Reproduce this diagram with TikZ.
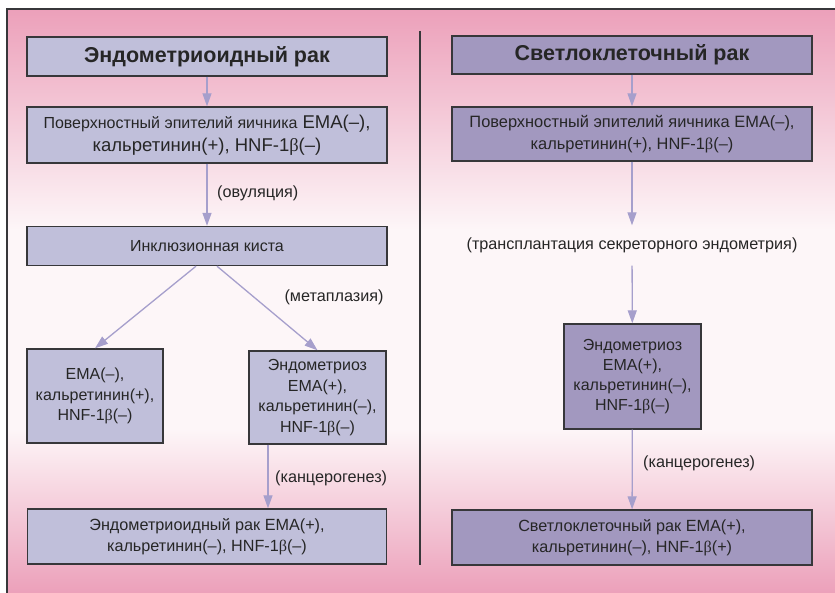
\documentclass[tikz,border=0pt]{standalone}
\usepackage{fontspec}
\setmainfont{Liberation Sans}
\newfontfamily\grkfont{Liberation Serif}
\usetikzlibrary{arrows.meta}
\definecolor{bgpink}{RGB}{236,160,186}
\definecolor{bgwhite}{RGB}{253,246,248}
\definecolor{lboxfill}{RGB}{192,191,218}
\definecolor{rboxfill}{RGB}{162,152,191}
\definecolor{flowcol}{RGB}{166,159,204}
\definecolor{framecol}{RGB}{55,55,58}
\newcommand{\hnfb}{{\grkfont β}}
\tikzset{
  lbox/.style={draw=framecol, line width=1.4pt, fill=lboxfill, inner sep=0pt, align=center, text=black!85},
  rbox/.style={lbox, fill=rboxfill},
  flow/.style={draw=flowcol, line width=1.3pt, -{Triangle[width=9pt,length=13pt]}},
  note/.style={inner sep=0pt, text=black!85, font=\fontsize{16.2}{19}\selectfont},
}
\begin{document}
\begin{tikzpicture}[x=1pt, y=-1pt]
  \useasboundingbox (0,0) rectangle (835,593);
  % background
  \shade [top color=bgpink, bottom color=bgwhite] (7,9) rectangle (835,230);
  \fill [bgwhite] (7,229) rectangle (835,430);
  \shade [top color=bgwhite, bottom color=bgpink] (7,429) rectangle (835,593);
  \draw [framecol, line width=1.5pt] (7,593) -- (7,9) -- (835,9);
  \draw [framecol, line width=2pt] (420,31) -- (420,565);
  % left column
  \node (titleL) at (207,56.5) [lbox, minimum width=360pt, minimum height=39pt, font=\fontsize{21.5}{24}\selectfont\bfseries] {Эндометриоидный рак};
  \node (epiL) at (207,135) [lbox, minimum width=360pt, minimum height=56pt, font=\fontsize{18.5}{23}\selectfont] {{\fontsize{16}{23}\selectfont Поверхностный эпителий яичника} EMA(–),\\ кальретинин(+), HNF-1\hnfb(–)};
  \node (cyst) at (207,246) [lbox, minimum width=360pt, minimum height=39pt, font=\fontsize{16}{19}\selectfont] {Инклюзионная киста};
  \node (meso) at (95,396) [lbox, minimum width=136pt, minimum height=94pt, font=\fontsize{16}{20.5}\selectfont] {EMA(–),\\ кальретинин(+),\\ HNF-1\hnfb(–)};
  \node (endoL) at (317.5,397.5) [lbox, minimum width=137pt, minimum height=93pt, font=\fontsize{16}{20.5}\selectfont] {Эндометриоз\\ EMA(+),\\ кальретинин(–),\\ HNF-1\hnfb(–)};
  \node (cancerL) at (207,536.5) [lbox, minimum width=359pt, minimum height=55pt, font=\fontsize{16.2}{21}\selectfont] {Эндометриоидный рак EMA(+),\\ кальретинин(–), HNF-1\hnfb(–)};
  \draw [flow] (titleL) -- (epiL);
  \draw [flow] (epiL) -- (cyst);
  \draw [flow] ([xshift=-11pt]cyst.south) -- (meso.north);
  \draw [flow] ([xshift=10pt]cyst.south) -- (endoL.north);
  \draw [flow] ([xshift=-49.5pt]endoL.south) -- ([xshift=-49.5pt]endoL.south |- cancerL.north);
  \node (ovul) at (217,193) [note, anchor=west] {(овуляция)};
  \node (metap) at (334,297) [note] {(метаплазия)};
  \node (cancgL) at (275,478) [note, anchor=west] {(канцерогенез)};
  % right column
  \node (titleR) at (632,55) [rbox, minimum width=360pt, minimum height=38pt, font=\fontsize{21.5}{24}\selectfont\bfseries] {Светлоклеточный рак};
  \node (epiR) at (632,134) [rbox, minimum width=360pt, minimum height=54pt, font=\fontsize{16.4}{22}\selectfont] {Поверхностный эпителий яичника EMA(–),\\ кальретинин(+), HNF-1\hnfb(–)};
  \node (transpl) at (632,245.5) [note, minimum height=40pt] {(трансплантация секреторного эндометрия)};
  \node (endoR) at (632.5,376.5) [rbox, minimum width=137pt, minimum height=105pt, font=\fontsize{16}{20}\selectfont] {Эндометриоз\\ EMA(+),\\ кальретинин(–),\\ HNF-1\hnfb(–)};
  \node (cancerR) at (632,537.5) [rbox, minimum width=360pt, minimum height=55pt, font=\fontsize{16.2}{21}\selectfont] {Светлоклеточный рак EMA(+),\\ кальретинин(–), HNF-1\hnfb(+)};
  \draw [flow] (titleR) -- (epiR);
  \draw [flow] (epiR) -- (transpl);
  \draw [flow] (transpl) -- (endoR);
  \draw [flow] (endoR) -- (cancerR);
  \node (cancgR) at (643,463) [note, anchor=west] {(канцерогенез)};
\end{tikzpicture}
\end{document}
